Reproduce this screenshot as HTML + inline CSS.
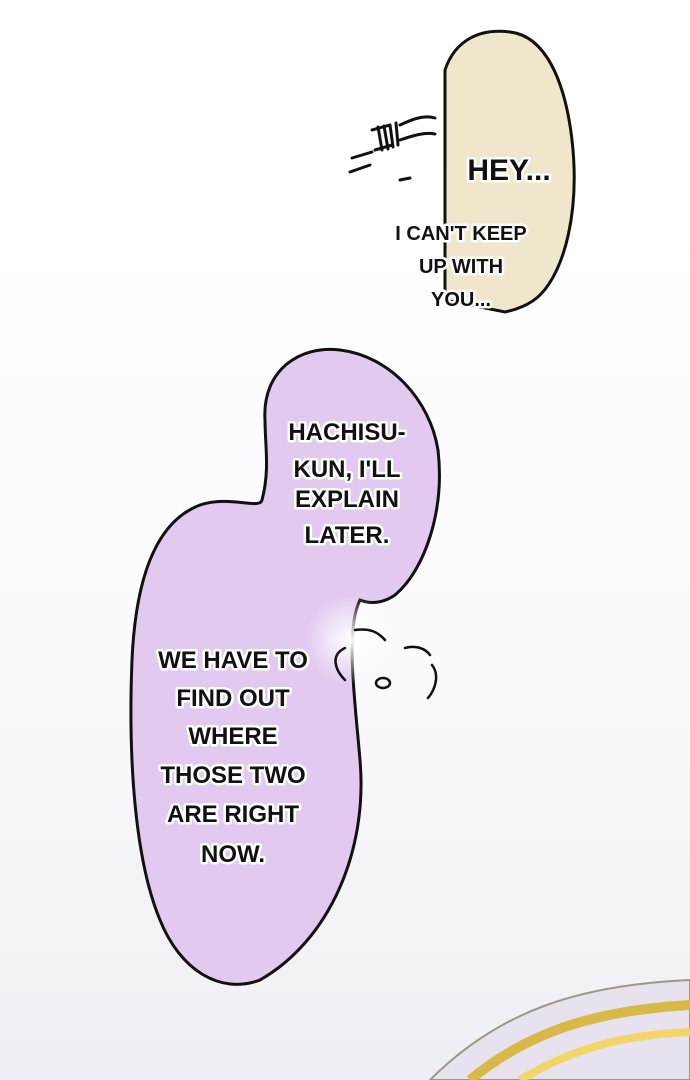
<!DOCTYPE html>
<html><head><meta charset="utf-8"><style>
html,body{margin:0;padding:0;}
body{width:690px;height:1080px;overflow:hidden;background:#fff;font-family:"Liberation Sans",sans-serif;}
svg{display:block}
text{font-family:"Liberation Sans Narrow","Liberation Sans",sans-serif;font-weight:bold;fill:#111;paint-order:stroke;stroke:#fff;stroke-width:5px;stroke-linejoin:round;text-anchor:middle}
</style></head><body>
<svg width="690" height="1080" viewBox="0 0 690 1080">
<defs>
<linearGradient id="sky" x1="0" y1="0" x2="0" y2="1">
<stop offset="0" stop-color="#fff"/><stop offset="0.6" stop-color="#fbfbfd"/><stop offset="1" stop-color="#eeeef4"/>
</linearGradient>
<radialGradient id="glow" cx="0.5" cy="0.5" r="0.5"><stop offset="0" stop-color="#fff"/><stop offset="1" stop-color="#fff" stop-opacity="0"/></radialGradient>
</defs>
<rect width="690" height="1080" fill="url(#sky)"/>
<path d="M445 70 C455 40 480 28 510 32 C545 36 565 80 572 140 C580 210 565 270 540 295 C530 305 515 310 505 312 L445 300 Z" fill="#f0e6cc" stroke="#111" stroke-width="3"/>
<g stroke="#111" stroke-width="3" fill="none" stroke-linecap="round">
<path d="M372 130 L390 125 M375 150 L392 145 M352 158 L372 152 M350 172 L370 165 M400 180 L410 178"/>
<path d="M378 127 L382 150 M384 126 L388 149 M390 125 L393 147 M396 123 L398 145"/>
<path d="M400 125 C415 118 425 115 435 118 M400 140 C415 135 425 132 435 134"/>
</g>
<path d="M265 420 C262 370 300 345 340 350 C390 356 430 400 438 450 C445 510 425 570 395 595 C385 602 372 605 360 600 C345 630 355 700 360 760 C368 850 330 940 260 980 C220 995 180 970 160 920 C135 860 128 760 132 660 C136 570 160 520 200 505 C230 495 260 510 262 500 C270 470 265 445 265 420 Z" fill="#e2c9f0" stroke="#111" stroke-width="3"/>
<ellipse cx="350" cy="640" rx="45" ry="45" fill="url(#glow)"/>
<g stroke="#111" stroke-width="2.5" fill="none" stroke-linecap="round">
<path d="M355 630 C370 628 378 632 385 640 M405 648 C415 645 425 648 430 655"/>
<path d="M345 648 C330 655 335 670 345 680 M432 665 C440 675 435 690 428 698"/>
<ellipse cx="383" cy="683" rx="7" ry="5"/>
</g>
<path d="M430 1080 C500 1010 580 985 690 980 L690 1080 Z" fill="#e8e2ee" stroke="#998" stroke-width="2"/>
<path d="M470 1080 C530 1030 600 1010 690 1005" stroke="#d9b84a" stroke-width="10" fill="none"/>
<path d="M520 1080 C570 1050 620 1035 690 1032" stroke="#f2d66a" stroke-width="8" fill="none"/>
<text x="509" y="180" font-size="30" stroke-width="7">HEY...</text>
<g font-size="20">
<text x="461" y="240">I CAN'T KEEP</text>
<text x="461" y="273">UP WITH</text>
<text x="461" y="306">YOU...</text>
</g>
<g font-size="24">
<text x="347" y="440">HACHISU-</text>
<text x="347" y="477">KUN, I'LL</text>
<text x="347" y="507">EXPLAIN</text>
<text x="347" y="543">LATER.</text>
<text x="233" y="668">WE HAVE TO</text>
<text x="233" y="706">FIND OUT</text>
<text x="233" y="744">WHERE</text>
<text x="233" y="783">THOSE TWO</text>
<text x="233" y="822">ARE RIGHT</text>
<text x="233" y="862">NOW.</text>
</g>
</svg>
</body></html>
